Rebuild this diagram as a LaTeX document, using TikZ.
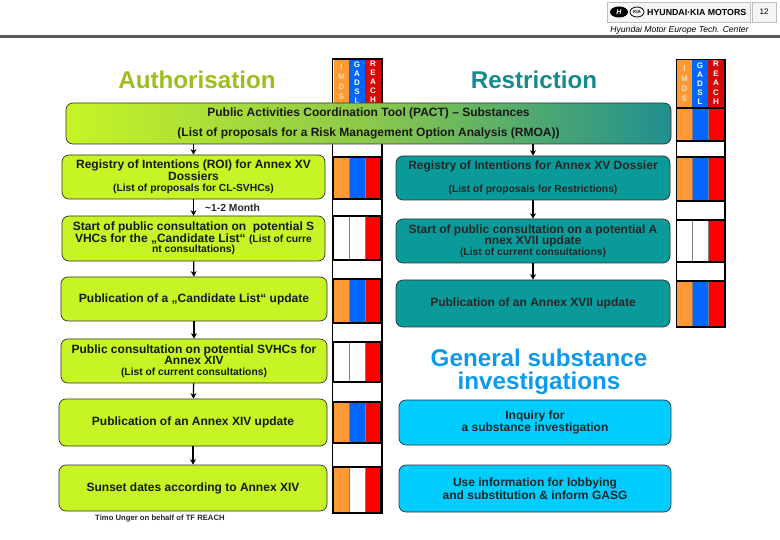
\documentclass[tikz,border=0pt]{standalone}
\usepackage{fontspec}
\setmainfont{Liberation Sans}
\usetikzlibrary{arrows.meta,shapes.geometric}
\definecolor{lime}{HTML}{C6F425}
\definecolor{tealbox}{HTML}{0A9A9A}
\definecolor{cyanbox}{HTML}{00CCFF}
\definecolor{orangec}{HTML}{FF9933}
\definecolor{bluec}{HTML}{0066FF}
\definecolor{redc}{HTML}{FF0000}
\definecolor{headred}{HTML}{D80808}
\definecolor{titlegreen}{HTML}{9DBE22}
\definecolor{titleteal}{HTML}{17898F}
\definecolor{titleblue}{HTML}{0A9BF0}
\definecolor{pactmid}{HTML}{8CC84B}
\definecolor{pactend}{HTML}{1F8F8F}
\newcommand{\lrg}{\fontsize{12}{11.6}\selectfont\bfseries}
\newcommand{\sml}{\fontsize{10.3}{11.5}\selectfont\bfseries}
\newcommand{\stk}{\fontsize{8}{9}\selectfont\bfseries}
\tikzset{
  x=1pt,y=-1pt,
  boxbase/.style={rounded corners=7pt,draw=black!80,line width=0.7pt,inner sep=0pt,align=center,anchor=center,text=black!90,font=\lrg},
  limebox/.style={boxbase,fill=lime},
  tealb/.style={boxbase,fill=tealbox,text=black!85},
  cyanb/.style={boxbase,fill=cyanbox,text=black!85,font=\fontsize{12}{12.8}\selectfont\bfseries},
  arr/.style={-{Stealth[length=5.5pt,width=6pt]},line width=1.3pt,black},
  title/.style={inner sep=0pt,align=center},
  rowbox/.style={draw=black,line width=1.3pt},
  colframe/.style={draw=black,line width=1.5pt,fill=white},
  headtext/.style={inner sep=0pt,align=center,font=\stk},
}
\newcommand{\cellrow}[7]{%
  \foreach \cc/\ca/\cb in {#7}{\fill[\cc] (\ca,#5) rectangle (\cb,#6);}
  \draw[gray,line width=.6pt] (#2,#5) -- (#2,#6);
  \draw[gray,line width=.6pt] (#3,#5) -- (#3,#6);
  \draw[rowbox] (#1,#5) rectangle (#4,#6);
}
\begin{document}
\begin{tikzpicture}
\useasboundingbox (0,0) rectangle (780,540);
\fill[white] (0,0) rectangle (780,540);
% header
\fill[black!65] (0,35.5) rectangle (780,38);
\draw[black!25,line width=.8pt,fill=black!4] (607.5,2) rectangle (750,22);
\draw[black!25,line width=.8pt,fill=black!4] (752,2) rectangle (776,22);
\node[ellipse,fill=black,text=white,inner sep=0pt,minimum width=18pt,minimum height=11pt,font=\fontsize{7}{8}\selectfont\bfseries\itshape] (hy) at (619,12) {H};
\node[ellipse,draw=black,line width=.8pt,inner sep=0pt,minimum width=14pt,minimum height=10pt,font=\fontsize{4.5}{5}\selectfont\bfseries] (kia) at (637,12) {KIA};
\node[inner sep=0pt,anchor=west,font=\fontsize{8.8}{9}\selectfont\bfseries] (brand) at (647,12) {HYUNDAI·KIA MOTORS};
\node[inner sep=0pt,font=\fontsize{8}{9}\selectfont] (pg) at (764,12) {12};
\node[inner sep=0pt,font=\fontsize{8.6}{9}\selectfont\itshape] (sub) at (679.5,30) {Hyundai Motor Europe Tech. Center};
% titles
\node[title,text=titlegreen,font=\fontsize{24.2}{26}\selectfont\bfseries] (t1) at (197,80) {Authorisation};
\node[title,text=titleteal,font=\fontsize{24.2}{26}\selectfont\bfseries] (t2) at (534,80) {Restriction};
\node[title,text=titleblue,font=\fontsize{24.2}{23.5}\selectfont\bfseries] (t3) at (539,372) {General substance\\investigations};
% left column
\draw[colframe] (332.5,59) rectangle (382,513);
\fill[orangec] (334,60) rectangle (349,103);
\fill[bluec] (349,60) rectangle (365,103);
\fill[headred] (365,60) rectangle (381,103);
\node[headtext,text=orange!30,anchor=north] (la) at (341.5,64) {I\\[1pt]M\\[1pt]D\\[1pt]S};
\node[headtext,text=white,anchor=north] (lb) at (357,62) {G\\A\\D\\S\\L};
\node[headtext,text=white,anchor=north] (lc) at (373,61) {R\\E\\A\\C\\H};
\cellrow{333.5}{349}{365}{381}{157}{199}{orangec/334/349,bluec/349/365,redc/365/381}
\cellrow{333.5}{349}{365}{381}{216}{260}{redc/365/381}
\cellrow{333.5}{349}{365}{381}{279}{323}{orangec/334/349,bluec/349/365,redc/365/381}
\cellrow{333.5}{349}{365}{381}{342}{382}{redc/365/381}
\cellrow{333.5}{349}{365}{381}{402}{443}{orangec/334/349,bluec/349/365,redc/365/381}
\cellrow{333.5}{349}{365}{381}{467}{513}{orangec/334/349,redc/365/381}
% right column
\draw[colframe] (676.5,59.5) rectangle (725,327);
\fill[orangec] (677,60) rectangle (692,108);
\fill[bluec] (692,60) rectangle (708,108);
\fill[headred] (708,60) rectangle (724,108);
\node[headtext,text=orange!30,anchor=north] (ra) at (684.5,66) {I\\[1pt]M\\[1pt]D\\[1pt]S};
\node[headtext,text=white,anchor=north] (rb) at (700,62.5) {G\\A\\D\\S\\L};
\node[headtext,text=white,anchor=north] (rc) at (716,61) {R\\[.5pt]E\\[.5pt]A\\[.5pt]C\\[.5pt]H};
\cellrow{676.5}{692}{708}{724.5}{108}{141}{orangec/677/692,bluec/692/708,redc/708/724}
\cellrow{676.5}{692}{708}{724.5}{157}{201}{orangec/677/692,bluec/692/708,redc/708/724}
\cellrow{676.5}{692}{708}{724.5}{220}{262}{redc/708/724}
\cellrow{676.5}{692}{708}{724.5}{281}{327}{orangec/677/692,bluec/692/708,redc/708/724}
% PACT
\node[boxbase,left color=lime,right color=pactend,middle color=pactmid,minimum width=605pt,minimum height=41pt,font=\fontsize{12}{19.5}\selectfont\bfseries] (pact) at (368.5,123.5) {Public Activities Coordination Tool (PACT) – Substances\\(List of proposals for a Risk Management Option Analysis (RMOA))};
% left boxes
\node[limebox,minimum width=263pt,minimum height=44pt] (l1) at (193.5,177) {Registry of Intentions (ROI) for Annex XV\\Dossiers\\[-.5pt]\sml (List of proposals for CL-SVHCs)};
\node[limebox,minimum width=263pt,minimum height=45pt] (l2) at (193.5,238.5) {Start of public consultation on\ \ potential S\\VHCs for the „Candidate List“ {\sml (List of curre}\\[-1pt]\sml nt consultations)};
\node[limebox,minimum width=266pt,minimum height=44pt] (l3) at (194,299) {Publication of a „Candidate List“ update};
\node[limebox,minimum width=266pt,minimum height=44pt] (l4) at (194,361) {Public consultation on potential SVHCs for\\Annex XIV\\[-1pt]\sml (List of current consultations)};
\node[limebox,minimum width=268pt,minimum height=47pt] (l5) at (193,422.5) {Publication of an Annex XIV update};
\node[limebox,minimum width=268pt,minimum height=46pt] (l6) at (193,488) {Sunset dates according to Annex XIV};
% right boxes
\node[tealb,minimum width=274pt,minimum height=44pt] (r1) at (533,178) {Registry of Intentions for Annex XV Dossier\\[11pt]\sml (List of proposals for Restrictions)};
\node[tealb,minimum width=274pt,minimum height=44pt] (r2) at (533,241) {Start of public consultation on a potential A\\nnex XVII update\\[-1pt]\sml (List of current consultations)};
\node[tealb,minimum width=274pt,minimum height=47pt] (r3) at (533,303.5) {Publication of an Annex XVII update};
\node[cyanb,minimum width=272pt,minimum height=45pt] (c1) at (535,422.5) {Inquiry for\\a substance investigation};
\node[cyanb,minimum width=272pt,minimum height=47pt] (c2) at (535,488.5) {Use information for lobbying\\and substitution \& inform GASG};
% arrows
\draw[arr] (pact.south -| l1.north) -- (l1.north);
\draw[arr] (l1) -- (l2);
\draw[arr] (l2) -- (l3);
\draw[arr] (l3.south) -- (l4.north);
\draw[arr] (l4) -- (l5);
\draw[arr] (l5) -- (l6);
\draw[arr] (pact.south -| r1.north) -- (r1.north);
\draw[arr] (r1) -- (r2);
\draw[arr] (r2) -- (r3);
% labels
\node[inner sep=0pt,anchor=west,font=\fontsize{10.3}{10}\selectfont\bfseries,text=black!85] (mon) at (205,207.5) {\textasciitilde 1-2 Month};
\node[inner sep=0pt,anchor=west,font=\fontsize{7.7}{8}\selectfont\bfseries,text=black!85] (foot) at (95,519) {Timo Unger on behalf of TF REACH};
\end{tikzpicture}
\end{document}
